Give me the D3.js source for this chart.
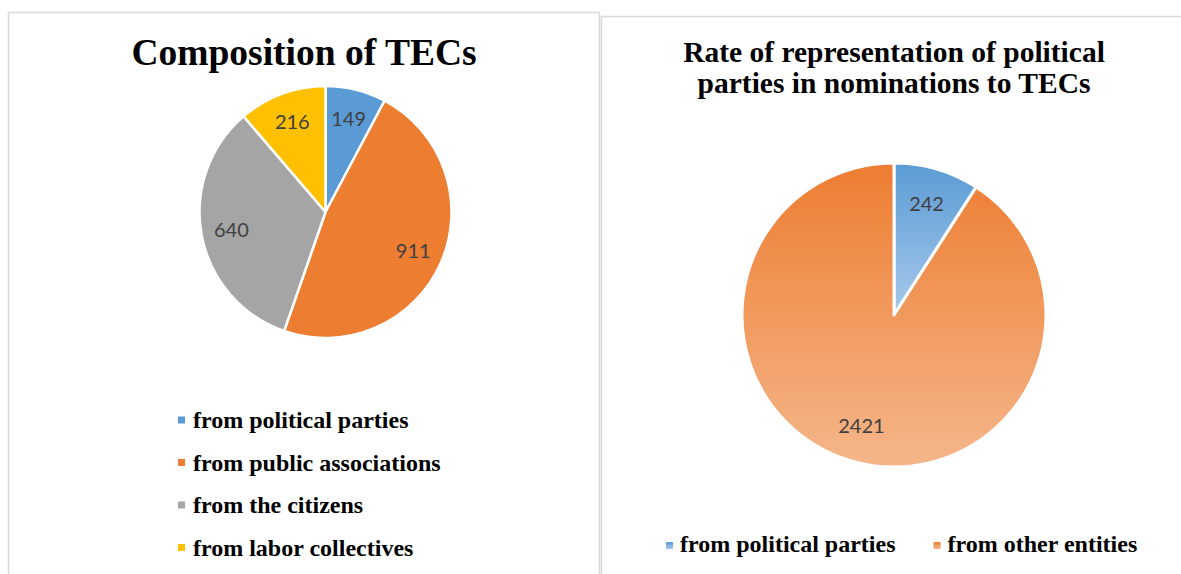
<!DOCTYPE html>
<html>
<head>
<meta charset="utf-8">
<script src="https://cdn.jsdelivr.net/npm/d3@7/dist/d3.min.js"></script>
<style>
  html, body { margin: 0; padding: 0; background: #fff; }
  svg { display: block; }
</style>
</head>
<body>
<svg id="chart" width="1181" height="574"></svg>
<script>
// ---- data ----
const leftTitle = "Composition of TECs";
const leftCategories = ["from political parties", "from public associations", "from the citizens", "from labor collectives"];
const leftValues = [149, 911, 640, 216];
const leftColors = ["#5B9BD5", "#ED7D31", "#A5A5A5", "#FFC000"];

const rightTitle = ["Rate of representation of political", "parties in nominations to TECs"];
const rightCategories = ["from political parties", "from other entities"];
const rightValues = [242, 2421];
const rightColorsTop = ["#5B9BD5", "#ED7D31"];
const rightColorsBottom = ["#A7C9EA", "#F5B68A"];

// ---- drawing ----
const svg = d3.select("#chart");
const serif = "'Liberation Serif', 'Times New Roman', serif";
const labelFont = "Lato, 'Open Sans', sans-serif";

// panels
svg.append("rect").attr("x", 8.5).attr("y", 12.5).attr("width", 591).attr("height", 600)
  .attr("fill", "#fff").attr("stroke", "#d9d9d9").attr("stroke-width", 1.5);
svg.append("rect").attr("x", 601.5).attr("y", 16.5).attr("width", 600).attr("height", 600)
  .attr("fill", "#fff").attr("stroke", "#d9d9d9").attr("stroke-width", 1.5);

const pie = d3.pie().sort(null).value(d => d);

// ---------- left chart ----------
svg.append("text").attr("x", 304).attr("y", 65).attr("text-anchor", "middle")
  .attr("font-family", serif).attr("font-weight", "bold").attr("font-size", 37.5)
  .attr("fill", "#000").text(leftTitle);

const L = { cx: 325.5, cy: 212, r: 126 };
const lArc = d3.arc().innerRadius(0).outerRadius(L.r);
const lLabelArc = d3.arc().innerRadius(L.r * 0.76).outerRadius(L.r * 0.76);
const gL = svg.append("g").attr("transform", `translate(${L.cx},${L.cy})`);
const lData = pie(leftValues);
gL.selectAll("path").data(lData).enter().append("path")
  .attr("d", lArc).attr("fill", (d, i) => leftColors[i])
  .attr("stroke", "#fff").attr("stroke-width", 2.5).attr("stroke-linejoin", "round");
gL.selectAll("text").data(lData).enter().append("text")
  .attr("transform", d => `translate(${lLabelArc.centroid(d)})`)
  .attr("text-anchor", "middle").attr("dy", "0.36em")
  .attr("font-family", labelFont).attr("font-size", 20).attr("fill", "#404040")
  .text(d => d.data);

const lLeg = svg.append("g");
leftCategories.forEach((c, i) => {
  const y = 420 + i * 42.5;
  lLeg.append("rect").attr("x", 178).attr("y", y - 3.5).attr("width", 7).attr("height", 7)
    .attr("fill", leftColors[i]);
  lLeg.append("text").attr("x", 193).attr("y", y + 8)
    .attr("font-family", serif).attr("font-weight", "bold").attr("font-size", 24)
    .attr("fill", "#000").text(c);
});

// ---------- right chart ----------
const defs = svg.append("defs");
rightCategories.forEach((c, i) => {
  const g = defs.append("linearGradient").attr("id", "rg" + i)
    .attr("x1", 0).attr("y1", 0).attr("x2", 0).attr("y2", 1);
  g.append("stop").attr("offset", "0%").attr("stop-color", rightColorsTop[i]);
  g.append("stop").attr("offset", "100%").attr("stop-color", rightColorsBottom[i]);
});

svg.append("text").attr("text-anchor", "middle")
  .attr("font-family", serif).attr("font-weight", "bold").attr("font-size", 29.5)
  .attr("fill", "#000")
  .selectAll("tspan").data(rightTitle).enter().append("tspan")
  .attr("x", 894).attr("y", (d, i) => 62 + i * 31).text(d => d);

const R = { cx: 894, cy: 315, r: 152 };
const rArc = d3.arc().innerRadius(0).outerRadius(R.r);
const rLabelArc = d3.arc().innerRadius(R.r * 0.76).outerRadius(R.r * 0.76);
const gR = svg.append("g").attr("transform", `translate(${R.cx},${R.cy})`);
const rData = pie(rightValues);
gR.selectAll("path").data(rData).enter().append("path")
  .attr("d", rArc).attr("fill", (d, i) => `url(#rg${i})`)
  .attr("stroke", "#fff").attr("stroke-width", 3).attr("stroke-linejoin", "round");
gR.selectAll("text").data(rData).enter().append("text")
  .attr("transform", d => `translate(${rLabelArc.centroid(d)})`)
  .attr("text-anchor", "middle").attr("dy", "0.36em")
  .attr("font-family", labelFont).attr("font-size", 20).attr("fill", "#404040")
  .text(d => d.data);

const rLeg = svg.append("g");
let lx = 666;
rightCategories.forEach((c, i) => {
  rLeg.append("rect").attr("x", lx).attr("y", 542).attr("width", 7).attr("height", 7)
    .attr("fill", `url(#rg${i})`);
  const t = rLeg.append("text").attr("x", lx + 14).attr("y", 552)
    .attr("font-family", serif).attr("font-weight", "bold").attr("font-size", 24)
    .attr("fill", "#000").text(c);
  lx = lx + 14 + t.node().getComputedTextLength() + 38;
});
</script>
</body>
</html>
